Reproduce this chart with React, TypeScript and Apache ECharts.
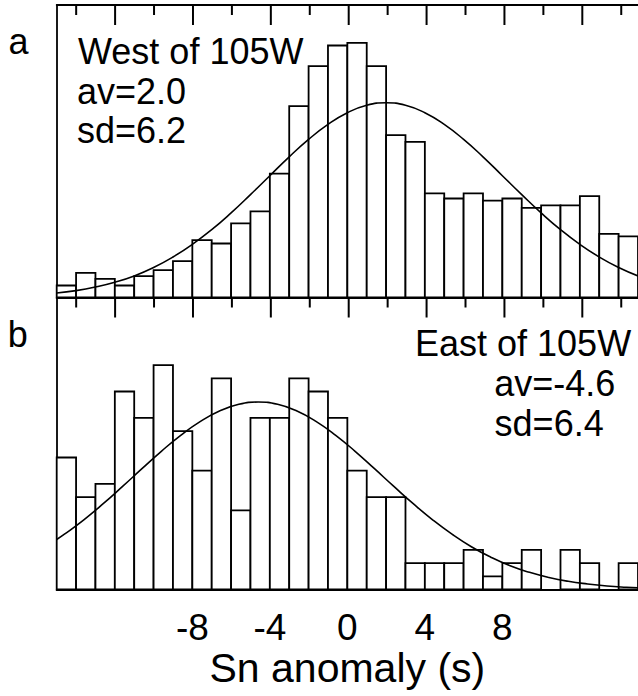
import React, { useEffect, useRef } from "react";
import * as echarts from "echarts";

// Histogram bins: left edges of 1-s bins (Sn anomaly, s)
const binLeft = [-15, -14, -13, -12, -11, -10, -9, -8, -7, -6, -5, -4, -3, -2, -1, 0, 1, 2, 3, 4, 5, 6, 7, 8, 9, 10, 11, 12, 13, 14];
// (a) West of 105W – bar heights
const westCounts = [4.0, 8.2, 6.2, 4.0, 7.1, 9.1, 12.1, 19.1, 18.0, 24.7, 28.7, 41.3, 63.8, 77.1, 84.0, 84.9, 77.1, 54.1, 51.9, 34.7, 33.0, 34.7, 32.3, 33.0, 29.9, 30.7, 30.7, 33.8, 21.2, 20.4];
// (b) East of 105W – bar heights
const eastCounts = [10, 7, 8, 15, 13, 17, 12, 9, 16, 6, 13, 13, 16, 15, 13, 9, 7, 7, 2, 2, 2, 3, 1, 2, 3, 0, 3, 2, 0, 2];
// Fitted curve (a), read at integer x
const westCurveX = [-15, -14, -13, -12, -11, -10, -9, -8, -7, -6, -5, -4, -3, -2, -1, 0, 1, 2, 3, 4, 5, 6, 7, 8, 9, 10, 11, 12, 13, 14, 15];
const westFit = [1.5, 2.3, 3.5, 5.1, 7.2, 10.0, 13.5, 17.7, 22.6, 28.2, 34.3, 40.6, 46.9, 52.7, 57.7, 61.6, 64.1, 64.9, 64.1, 61.6, 57.7, 52.7, 46.9, 40.6, 34.3, 28.2, 22.6, 17.7, 13.5, 10.0, 7.2];
// Fitted curve (b), read at 1-s steps around its peak
const eastCurveX = [-15, -14.6, -13.6, -12.6, -11.6, -10.6, -9.6, -8.6, -7.6, -6.6, -5.6, -4.6, -3.6, -2.6, -1.6, -0.6, 0.4, 1.4, 2.4, 3.4, 4.4, 5.4, 6.4, 7.4, 8.4, 9.4, 10.4, 11.4, 12.4, 13.4, 14.4, 15];
const eastFit = [3.79, 4.19, 5.28, 6.5, 7.81, 9.15, 10.47, 11.68, 12.72, 13.52, 14.03, 14.2, 14.03, 13.52, 12.72, 11.68, 10.47, 9.15, 7.81, 6.5, 5.28, 4.19, 3.24, 2.45, 1.8, 1.3, 0.91, 0.62, 0.42, 0.27, 0.17, 0.13];
// Tick values
const majorTicks = [-12, -8, -4, 0, 4, 8, 12];
const minorTicks = [-14, -10, -6, -2, 2, 6, 10, 14];
const tickLabels = [-8, -4, 0, 4, 8];
const xMin = -15;
const xMax = 15;
const westMax = 97.5;
const eastMax = 22.12;

const FONT = "'Liberation Sans', Arial, Helvetica, sans-serif";

// layout (pixels)
const PLOT_LEFT = 56.7;
const UNIT = 19.467; // px per second
const TOP_Y = 5;
const MID_Y = 297.5;
const BOT_Y = 589.5;
const MAJOR_LEN = 20;
const MINOR_LEN = 10;

export default function App() {
  const ref = useRef<HTMLDivElement>(null);
  useEffect(() => {
    if (!ref.current) return;
    const chart = echarts.init(ref.current, null, { renderer: "svg" });

    const westData = binLeft.map((b, i) => [b, b + 1, westCounts[i]]);
    const eastData = binLeft.map((b, i) => [b, b + 1, eastCounts[i]]);

    const renderBar = (params: any, api: any) => {
      const v = api.value(2);
      if (!v) return null;
      const p0 = api.coord([api.value(0), 0]);
      const p1 = api.coord([api.value(1), v]);
      return {
        type: "rect",
        shape: { x: p0[0], y: p1[1], width: p1[0] - p0[0], height: p0[1] - p1[1] },
        style: { fill: "#fff", stroke: "#000", lineWidth: 1.8 },
      };
    };

    const lineStyle = { color: "#000", width: 1.8 };
    const shownLine = { show: true, onZero: false, lineStyle };
    const span = xMax - xMin;

    const grids = [
      { left: PLOT_LEFT, top: TOP_Y, width: span * UNIT, height: MID_Y - TOP_Y },
      { left: PLOT_LEFT, top: MID_Y, width: span * UNIT, height: BOT_Y - MID_Y },
    ];

    // tick marks on the top frame and the shared middle axis, both pointing down,
    // placed with the same linear mapping as the x axis of the grids
    const xToPx = (v: number) => PLOT_LEFT + (v - xMin) * UNIT;
    const tickRect = (v: number, y: number, len: number) => ({
      type: "rect",
      z: 50,
      silent: true,
      shape: { x: xToPx(v) - 1, y, width: 2, height: len },
      style: { fill: "#000", stroke: "none" },
    });
    const ticks = [
      ...majorTicks.map((v) => tickRect(v, TOP_Y, MAJOR_LEN)),
      ...majorTicks.map((v) => tickRect(v, MID_Y, MAJOR_LEN)),
      ...minorTicks.map((v) => tickRect(v, TOP_Y, MINOR_LEN)),
      ...minorTicks.map((v) => tickRect(v, MID_Y, MINOR_LEN)),
    ];

    const txt = (text: string, x: number, y: number) => ({
      type: "text",
      x,
      y,
      style: {
        text,
        fill: "#000",
        fontSize: 36,
        fontFamily: FONT,
        verticalAlign: "middle",
        align: "left",
      },
    });

    chart.setOption({
      animation: false,
      backgroundColor: "#fff",
      grid: grids,
      xAxis: [
        {
          type: "value",
          gridIndex: 0,
          position: "top",
          min: xMin,
          max: xMax,
          axisLine: shownLine,
          axisTick: { show: false },
          axisLabel: { show: false },
          splitLine: { show: false },
        },
        {
          type: "value",
          gridIndex: 0,
          position: "bottom",
          min: xMin,
          max: xMax,
          axisLine: shownLine,
          axisTick: { show: false },
          axisLabel: { show: false },
          splitLine: { show: false },
        },
        {
          type: "value",
          min: xMin,
          max: xMax,
          gridIndex: 1,
          position: "bottom",
          splitLine: { show: false },
          axisLine: shownLine,
          axisTick: { show: false },
          axisLabel: {
            show: true,
            customValues: tickLabels,
            color: "#000",
            fontSize: 37,
            fontFamily: FONT,
            margin: 38,
            verticalAlign: "middle",
          },
          name: "Sn anomaly (s)",
          nameLocation: "middle",
          nameGap: 78,
          nameTextStyle: { color: "#000", fontSize: 41, fontFamily: FONT, verticalAlign: "middle" },
        },
      ],
      yAxis: [
        { type: "value", gridIndex: 0, min: 0, max: westMax, axisLine: shownLine, axisTick: { show: false }, axisLabel: { show: false }, splitLine: { show: false } },
        { type: "value", gridIndex: 1, min: 0, max: eastMax, axisLine: shownLine, axisTick: { show: false }, axisLabel: { show: false }, splitLine: { show: false } },
      ],
      series: [
        {
          type: "custom",
          xAxisIndex: 0,
          yAxisIndex: 0,
          renderItem: renderBar,
          data: westData,
          encode: { x: [0, 1], y: 2 },
          z: 2,
        },
        {
          type: "line",
          xAxisIndex: 0,
          yAxisIndex: 0,
          data: westCurveX.map((x, i) => [x, westFit[i]]),
          smooth: true,
          showSymbol: false,
          symbol: "none",
          lineStyle: { color: "#000", width: 1.6 },
          z: 3,
        },
        {
          type: "custom",
          xAxisIndex: 2,
          yAxisIndex: 1,
          renderItem: renderBar,
          data: eastData,
          encode: { x: [0, 1], y: 2 },
          z: 2,
        },
        {
          type: "line",
          xAxisIndex: 2,
          yAxisIndex: 1,
          data: eastCurveX.map((x, i) => [x, eastFit[i]]),
          smooth: true,
          showSymbol: false,
          symbol: "none",
          lineStyle: { color: "#000", width: 1.6 },
          z: 3,
        },
      ],
      graphic: [
        ...ticks,
        txt("a", 8.6, 41.5),
        txt("b", 7.7, 334.8),
        txt("West of 105W", 78, 51.7),
        txt("av=2.0", 77, 91),
        txt("sd=6.2", 77, 130.5),
        txt("East of 105W", 415, 343.9),
        txt("av=-4.6", 494.3, 383.9),
        txt("sd=6.4", 494.6, 423.5),
      ],
    });

    return () => chart.dispose();
  }, []);

  return (
    <div
      ref={ref}
      style={{ position: "absolute", left: 0, top: 0, width: 638, height: 696, background: "#fff" }}
    />
  );
}
